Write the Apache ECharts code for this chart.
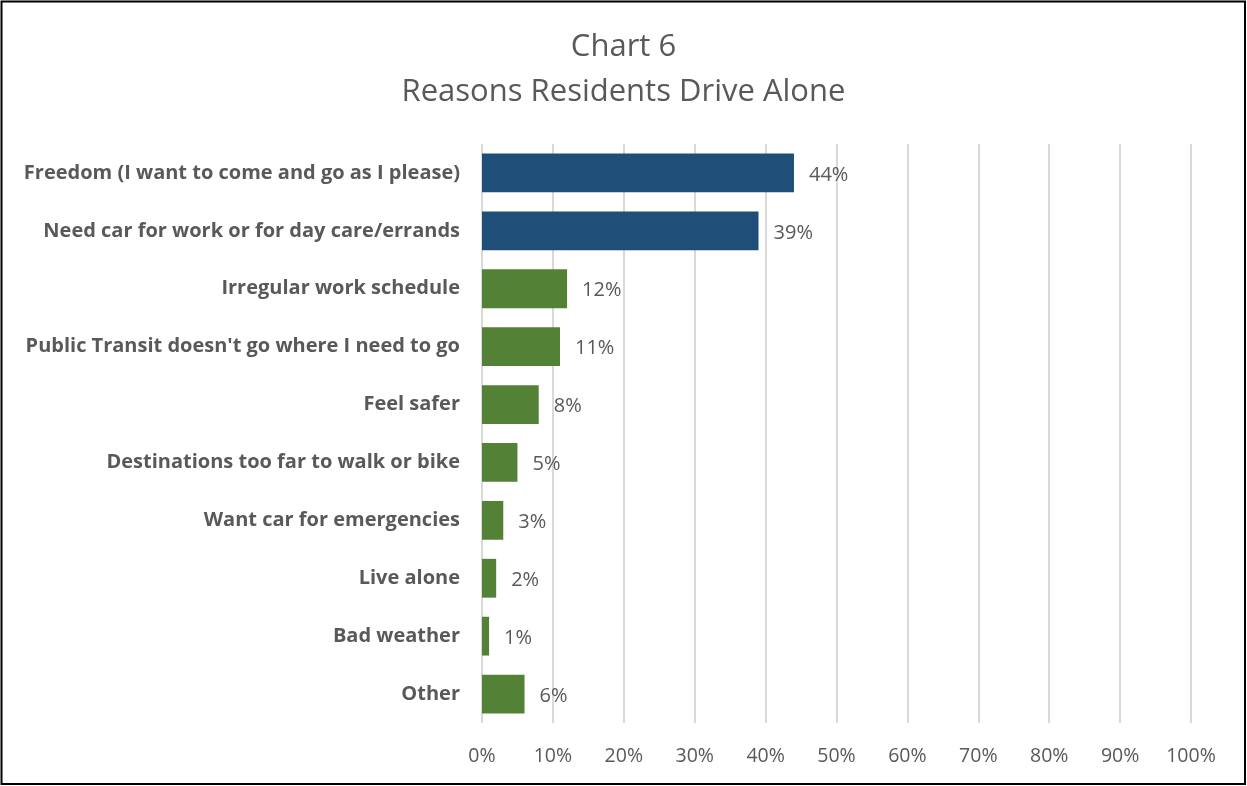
<!DOCTYPE html>
<html>
<head>
<meta charset="utf-8">
<script src="https://cdn.jsdelivr.net/npm/echarts@6/dist/echarts.min.js"></script>
<style>
  html, body { margin: 0; padding: 0; background: #fff; }
  #chart { width: 1247px; height: 786px; }
</style>
</head>
<body>
<div id="chart"></div>
<script>
// Survey reasons, listed top to bottom
const categories = [
  'Freedom (I want to come and go as I please)',
  'Need car for work or for day care/errands',
  'Irregular work schedule',
  "Public Transit doesn't go where I need to go",
  'Feel safer',
  'Destinations too far to walk or bike',
  'Want car for emergencies',
  'Live alone',
  'Bad weather',
  'Other'
];
// Share of respondents, percent
const shares = [44, 39, 12, 11, 8, 5, 3, 2, 1, 6];
// Value axis ticks, percent
const axisTicks = [0, 10, 20, 30, 40, 50, 60, 70, 80, 90, 100];

const topReasonCount = 2;
const FONT = '"Open Sans", "DejaVu Sans", sans-serif';
const TEXT = '#595959';

const chart = echarts.init(document.getElementById('chart'), null, { renderer: 'canvas' });

chart.setOption({
  backgroundColor: '#ffffff',
  animation: false,
  title: {
    text: 'Chart 6\nReasons Residents Drive Alone',
    left: 'center',
    top: 20,
    textStyle: {
      fontFamily: FONT,
      fontSize: 31,
      fontWeight: 'normal',
      color: TEXT,
      lineHeight: 45
    }
  },
  graphic: [{
    type: 'rect',
    shape: { x: 1.5, y: 1.5, width: 1243.5, height: 782.5 },
    style: { fill: 'none', stroke: '#000', lineWidth: 2 },
    silent: true
  }],
  grid: {
    left: 482,
    right: 56,
    top: 144,
    bottom: 63,
    containLabel: false,
    outerBoundsMode: 'none'
  },
  xAxis: {
    type: 'value',
    min: axisTicks[0],
    max: axisTicks[axisTicks.length - 1],
    interval: axisTicks[1] - axisTicks[0],
    axisLine: { show: false },
    axisTick: { show: false },
    splitLine: { show: true, lineStyle: { color: '#d9d9d9', width: 2 } },
    axisLabel: {
      formatter: v => v + '%',
      fontFamily: FONT,
      fontSize: 19.5,
      color: TEXT,
      margin: 23
    }
  },
  yAxis: {
    type: 'category',
    inverse: true,
    data: categories,
    axisLine: { show: false },
    axisTick: { show: false },
    axisLabel: {
      fontFamily: FONT,
      fontSize: 20,
      fontWeight: 'bold',
      color: TEXT,
      margin: 22
    }
  },
  series: [{
    type: 'bar',
    data: shares,
    barCategoryGap: '33%',
    itemStyle: {
      color: p => (p.dataIndex < topReasonCount ? '#1f4e79' : '#538135')
    },
    label: {
      show: true,
      position: 'right',
      distance: 15,
      offset: [0, 2],
      formatter: p => p.value + '%',
      fontFamily: FONT,
      fontSize: 20,
      color: TEXT
    }
  }]
});
</script>
</body>
</html>
